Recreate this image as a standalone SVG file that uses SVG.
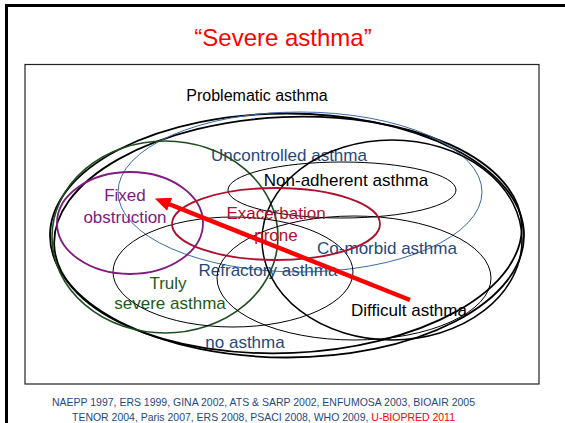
<svg xmlns="http://www.w3.org/2000/svg" width="565" height="423" viewBox="0 0 565 423">
<defs>
<style>
text{font-family:"Liberation Sans",Arial,sans-serif;}
.lbl{font-size:17px;text-anchor:middle;}
.blue{fill:#1F497D;}
.e{fill:none;}
.thin{stroke:#000;stroke-width:1;}
.big{stroke:#000;stroke-width:1.8;}
.foot{font-size:10.5px;fill:#1F497D;}
</style>
<marker id="ah" markerUnits="userSpaceOnUse" markerWidth="16" markerHeight="14" refX="5" refY="7" orient="auto">
<path d="M0,0 L16,7 L0,14 z" fill="#FF0000"/>
</marker>
</defs>
<rect width="565" height="423" fill="#fff"/>
<path d="M6.5,423 V5.5 H565" fill="none" stroke="#000" stroke-width="3"/>
<text x="283" y="46" style="font-size:24px;fill:#FF0000;text-anchor:middle">“Severe asthma”</text>
<rect x="25" y="64.5" width="514" height="319.5" fill="none" stroke="#222" stroke-width="1.2"/>

<g id="problematic">
<ellipse class="e big" cx="287" cy="235.5" rx="237" ry="122"/>
<ellipse class="e big" cx="288" cy="235" rx="234" ry="118" transform="rotate(-2.5 288 235)"/>
<text x="257" y="101" style="font-size:16px;text-anchor:middle">Problematic asthma</text>
</g>
<g id="uncontrolled">
<ellipse class="e" cx="300" cy="192" rx="182" ry="80" stroke="#3A6AA5" stroke-width="1"/>
<text class="lbl blue" x="289" y="161">Uncontrolled asthma</text>
</g>
<g id="truly-severe">
<ellipse class="e" cx="165" cy="237" rx="113" ry="96" stroke="#1E4D1E" stroke-width="1.6"/>
<text class="lbl" x="168" y="289" fill="#1E5A1E">Truly</text>
<text class="lbl" x="170" y="309" fill="#1E5A1E">severe asthma</text>
</g>
<g id="non-adherent">
<ellipse class="e thin" cx="342" cy="190" rx="114" ry="28"/>
<text class="lbl" x="346" y="186">Non-adherent asthma</text>
</g>
<g id="refractory">
<ellipse class="e thin" cx="233" cy="272" rx="120" ry="55"/>
<text class="lbl blue" x="268" y="276">Refractory asthma</text>
</g>
<g id="comorbid">
<ellipse class="e thin" cx="354" cy="278" rx="137" ry="62"/>
<text class="lbl blue" x="387" y="254">Co-morbid asthma</text>
</g>
<g id="difficult">
<ellipse class="e" cx="392" cy="240" rx="130" ry="100" stroke="#000" stroke-width="1.5"/>
<text class="lbl" x="409" y="316">Difficult asthma</text>
</g>
<g id="fixed">
<ellipse class="e" cx="130" cy="223" rx="73" ry="51" stroke="#7F1A7F" stroke-width="1.8"/>
<text class="lbl" x="125" y="201" fill="#7F1A7F">Fixed</text>
<text class="lbl" x="125" y="223" fill="#7F1A7F">obstruction</text>
</g>
<g id="exacerbation">
<ellipse class="e" cx="276" cy="224" rx="104" ry="36" stroke="#B0102F" stroke-width="1.8"/>
<text class="lbl" x="276" y="219" fill="#B0102F">Exacerbation</text>
<text class="lbl" x="276" y="241" fill="#B0102F">prone</text>
</g>
<g id="no-asthma">
<text class="lbl blue" x="245" y="348">no asthma</text>
</g>
<g id="connectors">
<line x1="410" y1="300" x2="165" y2="202.5" stroke="#FF0000" stroke-width="4.5" marker-end="url(#ah)"/>
</g>
<text class="foot" x="52" y="406" textLength="423" lengthAdjust="spacingAndGlyphs">NAEPP 1997, ERS 1999, GINA 2002, ATS &amp; SARP 2002, ENFUMOSA 2003, BIOAIR 2005</text>
<text class="foot" x="72" y="421" textLength="383" lengthAdjust="spacingAndGlyphs">TENOR 2004, Paris 2007, ERS 2008, PSACI 2008, WHO 2009, <tspan fill="#FF0000">U-BIOPRED 2011</tspan></text>
</svg>
